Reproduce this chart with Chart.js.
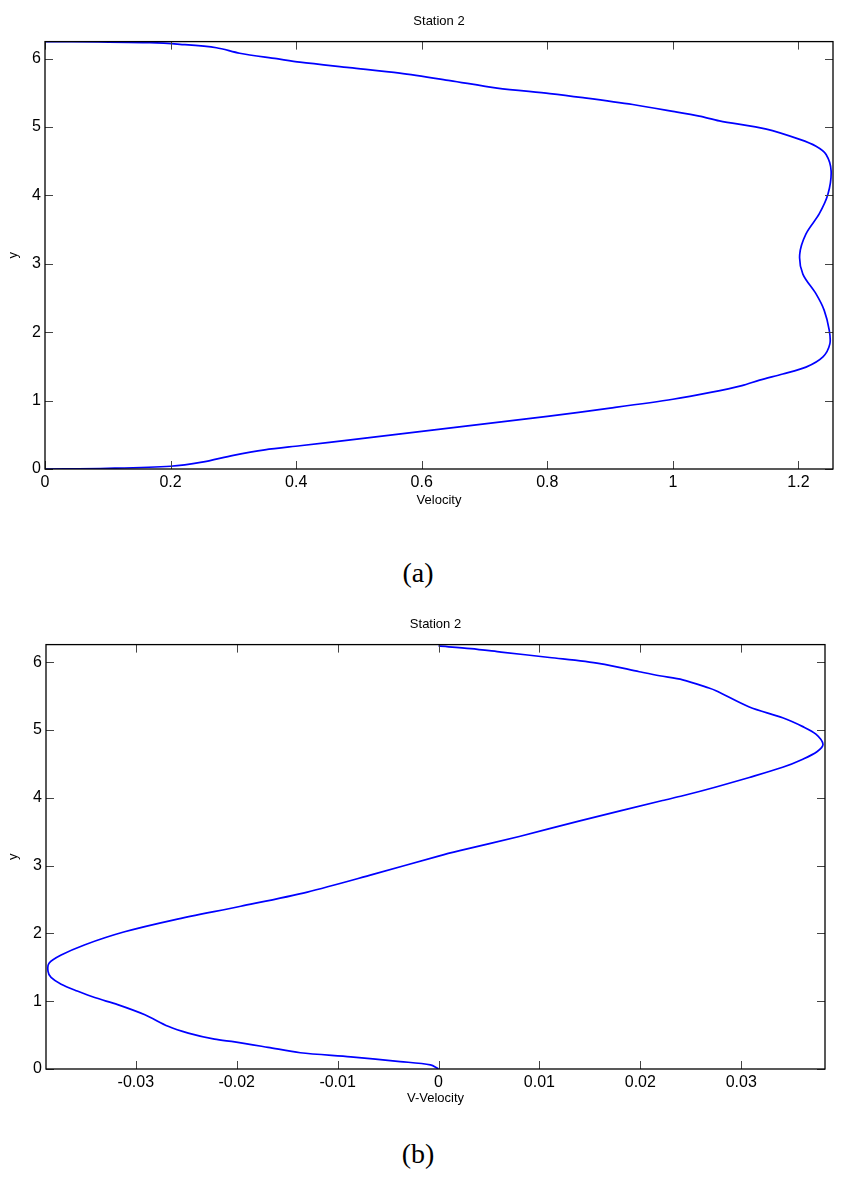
<!DOCTYPE html>
<html>
<head>
<meta charset="utf-8">
<script src="https://cdn.jsdelivr.net/npm/chart.js@4.4.1/dist/chart.umd.min.js"></script>
<style>
  body { margin: 0; background: #fff; width: 852px; height: 1178px; position: relative; overflow: hidden; }
  .plot { position: absolute; left: 0; }
  .cap { position: absolute; width: 852px; text-align: center; line-height: 36px;
         font-family: "Liberation Serif", "DejaVu Serif", serif; font-size: 28px; color: #000; }
</style>
</head>
<body>
<canvas id="chartA" class="plot" style="top:0" width="852" height="520"></canvas>
<div class="cap" style="left:-8px; top:555px">(a)</div>
<canvas id="chartB" class="plot" style="top:603px" width="852" height="517"></canvas>
<div class="cap" style="left:-8px; top:1136px">(b)</div>
<script>
// (a) streamwise velocity profile, Station 2
const yA = [0, 0.01, 0.04, 0.1, 0.2, 0.28, 0.34, 0.44, 0.55, 0.66, 0.77, 0.89, 1.02, 1.12, 1.22,
  1.30, 1.39, 1.49, 1.64, 1.83, 2.03, 2.32, 2.56, 2.85, 3.14, 3.44, 3.73, 4.02, 4.36, 4.60,
  4.72, 4.82, 4.97, 5.09, 5.16, 5.23, 5.33, 5.43, 5.49, 5.57, 5.68, 5.79, 5.87, 5.95, 6.0,
  6.08, 6.16, 6.21, 6.235, 6.245, 6.25];
const uA = [0, 0.1, 0.2, 0.25, 0.3, 0.35, 0.406, 0.5, 0.6, 0.7, 0.8, 0.9, 1.0, 1.06, 1.11,
  1.138, 1.175, 1.212, 1.239, 1.250, 1.249, 1.241, 1.228, 1.207, 1.202, 1.212, 1.233, 1.247, 1.252, 1.244,
  1.228, 1.202, 1.149, 1.074, 1.042, 1.0, 0.936, 0.857, 0.804, 0.72, 0.645, 0.565, 0.485, 0.406, 0.369,
  0.31, 0.273, 0.215, 0.167, 0.085, 0];

// (b) V-velocity profile, Station 2
const yB = [0, 0.06, 0.11, 0.18, 0.24, 0.32, 0.40, 0.44, 0.53, 0.63, 0.80, 0.95, 1.05, 1.15, 1.25,
  1.35, 1.44, 1.56, 1.68, 1.83, 2.02, 2.20, 2.40, 2.61, 2.87, 3.14, 3.22, 3.43, 3.66, 3.96,
  4.03, 4.16, 4.30, 4.45, 4.57, 4.68, 4.79, 4.94, 5.05, 5.18, 5.34, 5.58, 5.62, 5.74, 5.80,
  5.86, 5.98, 6.07, 6.15, 6.2, 6.24];
const vB = [0, -0.0008, -0.0038, -0.0087, -0.0137, -0.0169, -0.0202, -0.0222, -0.0248, -0.0268, -0.0291, -0.0318, -0.0340, -0.0358, -0.0374,
  -0.0384, -0.0387, -0.0386, -0.0374, -0.0351, -0.0312, -0.0262, -0.0196, -0.0130, -0.0065, 0, 0.0021, 0.008, 0.014, 0.0222,
  0.0242, 0.0275, 0.0308, 0.0341, 0.0361, 0.0375, 0.0381, 0.0374, 0.0361, 0.0341, 0.0308, 0.0275, 0.0268, 0.0242, 0.0219,
  0.0199, 0.0160, 0.0110, 0.0062, 0.0032, 0];

const xTicksA = [0, 0.2, 0.4, 0.6, 0.8, 1, 1.2];
const xTicksB = [-0.03, -0.02, -0.01, 0, 0.01, 0.02, 0.03];
const yTicks = [0, 1, 2, 3, 4, 5, 6];

// box round the plot with inward ticks on all four sides, like matlab
const matlabAxes = {
  id: 'matlabAxes',
  afterDraw(chart) {
    const { ctx, chartArea: a, scales: { x, y } } = chart;
    ctx.save();
    ctx.strokeStyle = '#444';
    ctx.lineWidth = 1;
    ctx.beginPath();
    x.ticks.forEach(t => {
      const px = Math.round(x.getPixelForValue(t.value)) + 0.5;
      ctx.moveTo(px, a.bottom); ctx.lineTo(px, a.bottom - 8);
      ctx.moveTo(px, a.top); ctx.lineTo(px, a.top + 8);
    });
    y.ticks.forEach(t => {
      const py = Math.round(y.getPixelForValue(t.value)) + 0.5;
      ctx.moveTo(a.left, py); ctx.lineTo(a.left + 8, py);
      ctx.moveTo(a.right, py); ctx.lineTo(a.right - 8, py);
    });
    ctx.stroke();
    ctx.strokeStyle = '#000';
    ctx.lineWidth = 1.3;
    ctx.strokeRect(a.left, a.top, a.right - a.left, a.bottom - a.top);
    ctx.restore();
  }
};

Chart.defaults.font.family = '"Liberation Sans", Arial, sans-serif';
Chart.defaults.color = '#000';

// matlab style labels: 1 not 1.0
const plainLabel = v => String(parseFloat(Number(v).toFixed(4)));

function makeChart(id, xs, ys, opts) {
  const pts = xs.map((v, i) => ({ x: v, y: ys[i] }));
  return new Chart(document.getElementById(id), {
    type: 'scatter',
    data: {
      datasets: [{
        data: pts,
        showLine: true,
        borderColor: '#0000ff',
        borderWidth: 1.7,
        pointRadius: 0,
        tension: 0.3,
        fill: false
      }]
    },
    options: {
      responsive: false,
      animation: false,
      events: [],
      layout: { padding: { left: 0, right: opts.padRight, top: 0, bottom: 0 } },
      plugins: {
        legend: { display: false },
        tooltip: { enabled: false },
        title: {
          display: true,
          text: 'Station 2',
          fullSize: false,
          font: { size: 13, weight: 'normal' },
          padding: { top: 14, bottom: 12 }
        }
      },
      scales: {
        x: {
          type: 'linear',
          min: opts.xMin,
          max: opts.xMax,
          afterFit: s => { s.height = 51; },
          afterBuildTicks: s => { s.ticks = opts.xTicks.map(v => ({ value: v })); },
          grid: { display: false, drawTicks: false },
          border: { display: false },
          ticks: { font: { size: 16 }, padding: 4, maxRotation: 0, callback: plainLabel },
          title: { display: true, text: opts.xTitle, font: { size: 13 }, padding: { top: 0, bottom: opts.titlePad } }
        },
        y: {
          type: 'linear',
          min: 0,
          max: opts.yMax,
          afterFit: s => { s.width = opts.yWidth; },
          afterBuildTicks: s => { s.ticks = yTicks.map(v => ({ value: v })); },
          grid: { display: false, drawTicks: false },
          border: { display: false },
          ticks: { font: { size: 16 }, padding: 4, callback: plainLabel },
          title: { display: true, text: 'y', font: { size: 13 }, padding: { top: 6, bottom: 0 } }
        }
      }
    },
    plugins: [matlabAxes]
  });
}

makeChart('chartA', uA, yA, {
  xMin: 0, xMax: 1.255, yMax: 6.25, xTicks: xTicksA,
  xTitle: 'Velocity', padRight: 19, yWidth: 45, titlePad: 12
});
makeChart('chartB', vB, yB, {
  xMin: -0.0389, xMax: 0.0383, yMax: 6.26, xTicks: xTicksB,
  xTitle: 'V-Velocity', padRight: 27, yWidth: 46, titlePad: 14
});
</script>
</body>
</html>
